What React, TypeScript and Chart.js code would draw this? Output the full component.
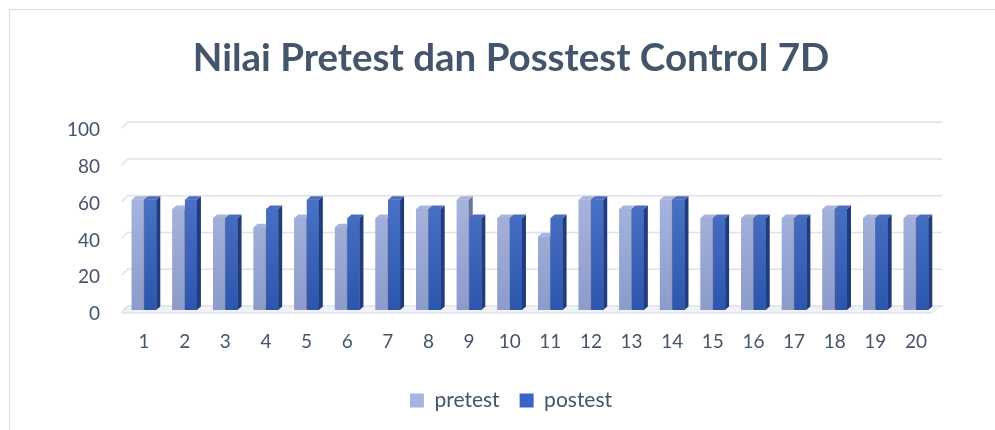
import React, { useEffect, useRef } from "react";
import { Chart, registerables } from "chart.js";

Chart.register(...registerables);

const categories = ["1","2","3","4","5","6","7","8","9","10","11","12","13","14","15","16","17","18","19","20"];
const pretest = [60,55,50,45,50,45,50,55,60,50,40,60,55,60,50,50,50,55,50,50];
const postest = [60,60,50,55,60,50,60,55,50,50,50,60,55,60,50,50,50,55,50,50];
const yTicks = [0, 20, 40, 60, 80, 100];
const seriesNames = ["pretest", "postest"];
const titleText = "Nilai Pretest dan Posstest Control 7D";

const TEXT = "#44546A";
const FONT = "Lato";
const DX = 4;
const DY = 3.5;

const palettes = [
  { top: "#B7C3E9", bottom: "#8D9BCB", side: "#69749A", cap: "#A9B4DA", legend: "#A7B4E0" },
  { top: "#5C82D3", bottom: "#2C56AE", side: "#1F3C7E", cap: "#4C6DBE", legend: "#3A65C6" },
];

function frontGradient(ctx: CanvasRenderingContext2D, area: any, i: number) {
  const g = ctx.createLinearGradient(0, area.top, 0, area.bottom);
  g.addColorStop(0, palettes[i].top);
  g.addColorStop(1, palettes[i].bottom);
  return g;
}

const wallPlugin = {
  id: "wall3d",
  beforeDatasetsDraw(chart: any) {
    const { ctx, chartArea } = chart;
    const ys = chart.scales.y;
    const L = chartArea.left;
    const R = chartArea.right;
    ctx.save();
    const y0 = ys.getPixelForValue(0);
    ctx.fillStyle = "#F1F2F5";
    ctx.beginPath();
    ctx.moveTo(L - 2, y0 + 3);
    ctx.lineTo(R - 4, y0 + 3);
    ctx.lineTo(R + 6, y0 - 4);
    ctx.lineTo(L + 4, y0 - 4);
    ctx.closePath();
    ctx.fill();
    ctx.strokeStyle = "#DEE2E8";
    ctx.lineWidth = 1.5;
    ctx.beginPath();
    ctx.moveTo(L - 2, y0 + 3);
    ctx.lineTo(R - 4, y0 + 3);
    ctx.stroke();
    for (const v of yTicks) {
      const y = ys.getPixelForValue(v);
      ctx.beginPath();
      ctx.moveTo(L - 2, y + 2);
      ctx.lineTo(L + 4, y - 4);
      ctx.lineTo(R + 6, y - 4);
      ctx.stroke();
    }
    ctx.restore();
  },
  afterDatasetsDraw(chart: any) {
    const { ctx, chartArea } = chart;
    ctx.save();
    chart.data.datasets.forEach((_: any, di: number) => {
      const meta = chart.getDatasetMeta(di);
      const fg = frontGradient(ctx, chartArea, di);
      meta.data.forEach((bar: any) => {
        const p = bar.getProps(["x", "y", "base", "width"], true);
        const left = p.x - p.width / 2;
        const right = p.x + p.width / 2;
        ctx.fillStyle = fg;
        ctx.fillRect(left, p.y, p.width, p.base - p.y);
        ctx.fillStyle = palettes[di].side;
        ctx.beginPath();
        ctx.moveTo(right, p.y);
        ctx.lineTo(right + DX, p.y - DY);
        ctx.lineTo(right + DX, p.base - DY);
        ctx.lineTo(right, p.base);
        ctx.closePath();
        ctx.fill();
        ctx.fillStyle = palettes[di].cap;
        ctx.beginPath();
        ctx.moveTo(left, p.y);
        ctx.lineTo(left + DX, p.y - DY);
        ctx.lineTo(right + DX, p.y - DY);
        ctx.lineTo(right, p.y);
        ctx.closePath();
        ctx.fill();
      });
    });
    ctx.restore();
  },
};

export default function App() {
  const canvasRef = useRef<HTMLCanvasElement>(null);

  useEffect(() => {
    document.body.style.margin = "0";
    const canvas = canvasRef.current;
    if (!canvas) return;
    const chart = new Chart(canvas, {
      type: "bar",
      data: {
        labels: categories,
        datasets: [pretest, postest].map((vals, i) => ({
          label: seriesNames[i],
          data: vals,
          backgroundColor: (c: any) => {
            const area = c.chart.chartArea;
            if (!area) return palettes[i].legend;
            return frontGradient(c.chart.ctx, area, i);
          },
          borderWidth: 0,
          categoryPercentage: 0.62,
          barPercentage: 0.95,
        })),
      },
      options: {
        responsive: false,
        animation: false,
        devicePixelRatio: 1,
        layout: { padding: { top: 0, left: 27, right: 0, bottom: 9 } },
        scales: {
          x: {
            grid: { display: false, drawTicks: false },
            border: { display: false },
            ticks: {
              color: TEXT,
              font: { family: FONT, size: 19 },
              padding: 20,
              maxRotation: 0,
            },
            afterFit: (s: any) => { s.height = 60; },
          },
          y: {
            min: 0,
            max: 100,
            grid: { display: false, drawTicks: false },
            border: { display: false },
            ticks: {
              stepSize: 20,
              color: TEXT,
              font: { family: FONT, size: 19 },
              padding: 23.7,
              labelOffset: 4,
            },
            afterFit: (s: any) => { s.width = 96.7; },
          },
          yRight: {
            type: "linear",
            position: "right",
            display: true,
            grid: { display: false, drawTicks: false },
            border: { display: false },
            ticks: { display: false },
            afterFit: (s: any) => { s.width = 58.7; },
          },
        },
        plugins: {
          title: {
            display: true,
            text: titleText,
            color: TEXT,
            font: { family: FONT, size: 38.5, weight: "bold" },
            padding: { top: 35, bottom: 45 },
          },
          legend: {
            display: true,
            position: "bottom",
            labels: {
              color: TEXT,
              font: { family: FONT, size: 21 },
              boxWidth: 14,
              boxHeight: 14,
              padding: 20,
              generateLabels: (ch: any) => {
                const items = Chart.defaults.plugins.legend.labels.generateLabels(ch);
                return items.map((it: any, i: number) => ({
                  ...it,
                  fillStyle: palettes[i].legend,
                  strokeStyle: palettes[i].legend,
                  lineWidth: 0,
                }));
              },
            },
          },
          tooltip: { enabled: false },
        },
      },
      plugins: [wallPlugin],
    });
    return () => chart.destroy();
  }, []);

  return (
    <div style={{ position: "relative", width: 995, height: 430, overflow: "hidden", background: "#fff" }}>
      <div
        style={{
          position: "absolute",
          left: 9,
          top: 9,
          width: 1000,
          height: 440,
          border: "1px solid #DADEE4",
          boxSizing: "border-box",
        }}
      />
      <canvas ref={canvasRef} width={995} height={430} style={{ position: "absolute", left: 0, top: 0 }} />
    </div>
  );
}
